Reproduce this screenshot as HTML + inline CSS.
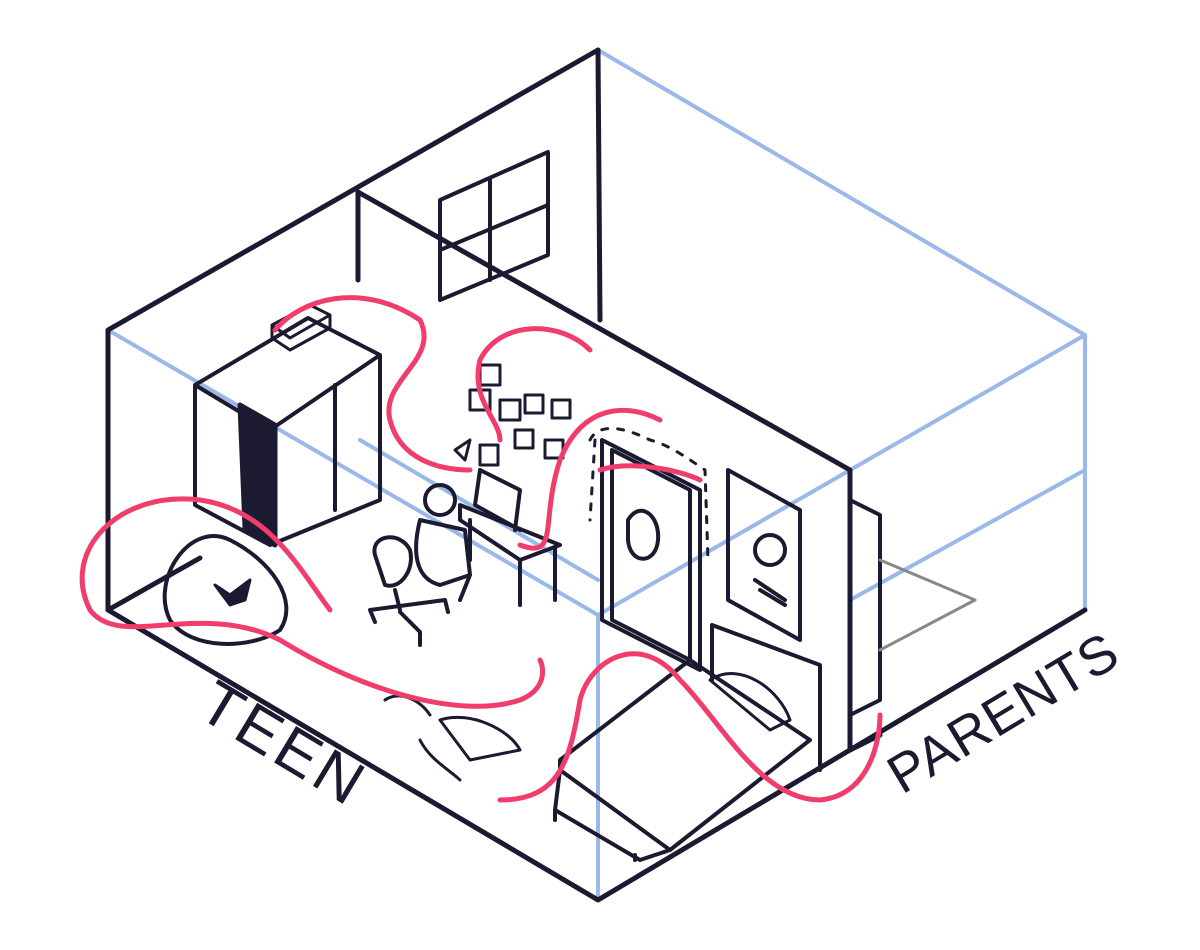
<!DOCTYPE html>
<html><head><style>html,body{margin:0;padding:0;background:#fff}svg{display:block}</style></head>
<body>
<svg width="1200" height="950" viewBox="0 0 1200 950" xmlns="http://www.w3.org/2000/svg" fill="none" stroke-linecap="round" stroke-linejoin="round">
<g stroke="#9ab8ea" stroke-width="4">
<path d="M598 50 L1085 335 L1085 610"/>
<path d="M598 615 L1085 335"/>
<path d="M108 330 L598 615 L598 900"/>
<path d="M360 440 L598 580"/>
<path d="M850 600 L1085 470"/>
</g>
<g stroke="#1c1a30" stroke-width="5">
<path d="M598 50 L108 330 L108 610 L598 900 L1085 610"/>
<path d="M598 50 L600 320"/>
<path d="M358 192 L850 470 L850 750"/>
<path d="M358 192 L358 280"/>
<path d="M108 610 L200 558"/>
<path d="M850 750 L880 735"/>
<path d="M440 200 L548 152 L548 255 L440 300 Z M490 180 L490 280 M440 250 L548 205" stroke-width="4"/>
<path d="M195 385 L308 318 L380 355 L380 500 L270 545 L195 505 Z M195 385 L270 430 L380 355 M270 430 L270 545 M335 385 L335 510" stroke-width="4"/>
<path d="M240 405 L275 425 L275 545 L245 528 Z" fill="#1c1a30"/>
<path d="M272 325 L310 305 L330 315 L290 338 Z M272 325 L272 338 L290 350 L330 328 L330 315" stroke-width="3"/>
<path d="M170 620 C150 580 190 520 230 540 C270 560 300 600 280 630 C250 650 190 650 170 620 Z" stroke-width="4"/>
<path d="M215 585 L230 595 L250 580 L245 600 L230 605 Z" fill="#1c1a30" stroke-width="3"/>
<path d="M375 555 C370 535 400 530 410 550 C415 570 400 590 385 585 Z M395 590 L400 610 M370 610 L445 600 M370 610 L375 622 M445 600 L448 612 M400 612 L420 632 L420 645" stroke-width="4"/>
<circle cx="440" cy="500" r="15" stroke-width="4"/>
<path d="M420 520 C410 560 420 580 440 585 L470 575 L465 530 Z M470 575 L460 600" stroke-width="4"/>
<path d="M480 470 L520 490 L515 530 M480 470 L475 505 L520 530 M460 505 L560 545 L520 560 L460 520 Z M520 560 L520 605 M555 548 L555 600 M470 520 L470 560" stroke-width="4"/>
<g stroke-width="3">
<rect x="480" y="365" width="20" height="20"/><rect x="470" y="390" width="20" height="20"/><rect x="500" y="400" width="20" height="20"/>
<rect x="525" y="395" width="18" height="18"/><rect x="552" y="400" width="18" height="18"/><rect x="515" y="430" width="18" height="18"/>
<rect x="545" y="440" width="18" height="18"/><path d="M455 450 L470 440 L465 460 Z"/><rect x="480" y="445" width="18" height="20"/>
</g>
<path d="M612 450 L690 490 L690 660 L612 620 Z M602 440 L700 490 L700 670 L602 620 Z" stroke-width="4"/>
<path d="M628 520 C640 500 660 515 658 540 C656 565 630 565 628 540 Z" stroke-width="4"/>
<path d="M590 440 C600 420 630 430 650 440 C670 445 690 460 705 470 L708 560" stroke-width="3" stroke-dasharray="6 10"/>
<path d="M595 440 L590 520" stroke-width="3" stroke-dasharray="6 10"/>
<path d="M728 470 L800 510 L800 640 L728 600 Z" stroke-width="4"/>
<circle cx="770" cy="550" r="15" stroke-width="4"/><path d="M755 580 L785 600 M760 590 L785 605" stroke-width="4"/>
<path d="M712 625 L820 665 L820 770 M712 625 L712 680" stroke-width="4"/>
<path d="M560 760 L690 660 L810 740 L670 850 L560 770 Z M560 770 L555 810 L640 860 L670 850 M555 810 L555 820 M635 855 L635 860" stroke-width="4"/>
<path d="M710 680 C740 660 780 690 790 720 L770 730 Z" stroke-width="3"/>
<path d="M850 500 L880 515 L880 700 L850 715" stroke-width="4"/>
<path d="M880 560 L975 600 L880 650" stroke="#888" stroke-width="3"/>
<path d="M385 700 C400 690 420 700 430 715 M440 720 C470 710 510 730 520 750 L470 760 Z M420 740 C430 760 450 770 460 780" stroke-width="3"/>
</g>
<g stroke="#f03d6c" stroke-width="5">
<path d="M275 330 C300 300 360 280 420 320 C440 360 380 380 390 420 C400 460 440 470 470 470"/>
<path d="M590 350 C560 320 500 320 480 360 C470 400 500 420 500 440"/>
<path d="M660 420 C620 400 580 410 560 460 C540 520 560 560 520 545 M600 470 C630 460 680 470 700 480"/>
<path d="M330 610 C300 570 270 510 200 500 C120 490 60 550 90 610 C120 650 200 600 280 640 C360 690 460 720 520 700 C545 690 545 670 540 660"/>
<path d="M500 800 C560 800 570 760 580 700 C590 660 640 630 680 680 C720 720 760 800 820 800 C870 795 880 740 880 715"/>
</g>
<g font-family="Liberation Sans, sans-serif" fill="#1c1a30" stroke="none">
<text transform="translate(195 715) rotate(31)" font-size="62" letter-spacing="4">TEEN</text>
<text transform="translate(902 795) rotate(-31)" font-size="54" letter-spacing="1">PARENTS</text>
</g>
</svg>
</body></html>
